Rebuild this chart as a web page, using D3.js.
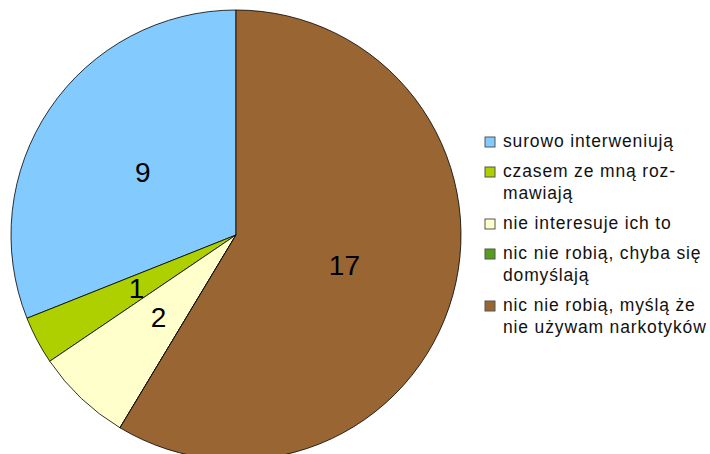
<!DOCTYPE html>
<html>
<head>
<meta charset="utf-8">
<script src="https://cdn.jsdelivr.net/npm/d3@7"></script>
<style>
  body { margin: 0; background: #fff; }
  text { font-family: "Liberation Sans", Arial, sans-serif; }
</style>
</head>
<body>
<svg id="chart" width="710" height="454"></svg>
<script>
var categories = [
    ["surowo interweniują"],
    ["czasem ze mną roz-", "mawiają"],
    ["nie interesuje ich to"],
    ["nic nie robią, chyba się", "domyślają"],
    ["nic nie robią, myślą że", "nie używam narkotyków"]
];
var values = [9, 1, 2, 0, 17];
var colors = ["#83caff", "#aecf00", "#ffffcc", "#579d1c", "#996633"];

var svg = d3.select("#chart");
var cx = 236, cy = 235, radius = 225;

var pie = d3.pie()
    .sort(null)
    .value(d => d)
    .startAngle(0)
    .endAngle(-2 * Math.PI);

var arcs = pie(values);

var arc = d3.arc()
    .innerRadius(0)
    .outerRadius(radius);

var labelArc = d3.arc()
    .innerRadius(radius * 0.5)
    .outerRadius(radius * 0.5);

var g = svg.append("g")
    .attr("transform", `translate(${cx}, ${cy})`);

g.selectAll("path")
    .data(arcs)
    .enter()
    .append("path")
    .attr("d", arc)
    .attr("fill", (d, i) => colors[i])
    .attr("stroke", "#000")
    .attr("stroke-width", 0.8);

g.selectAll("text.val")
    .data(arcs.filter(d => d.value > 0))
    .enter()
    .append("text")
    .attr("class", "val")
    .attr("x", d => labelArc.centroid(d)[0])
    .attr("y", d => labelArc.centroid(d)[1] + 10)
    .attr("text-anchor", "middle")
    .attr("font-size", 28)
    .text(d => d.value);

// legend
var legend = svg.append("g");
var y = 147;
categories.forEach(function(lines, i) {
    legend.append("rect")
        .attr("x", 485)
        .attr("y", y - 10)
        .attr("width", 10)
        .attr("height", 10)
        .attr("fill", colors[i])
        .attr("stroke", "#555")
        .attr("stroke-width", 1);
    var t = legend.append("text")
        .attr("x", 503)
        .attr("y", y)
        .attr("font-size", 17.5)
        .attr("letter-spacing", 0.85)
        .attr("fill", "#111");
    lines.forEach(function(line, j) {
        t.append("tspan")
            .attr("x", 503)
            .attr("y", y + j * 22)
            .text(line);
    });
    y += lines.length * 22 + 8;
});
</script>
</body>
</html>
